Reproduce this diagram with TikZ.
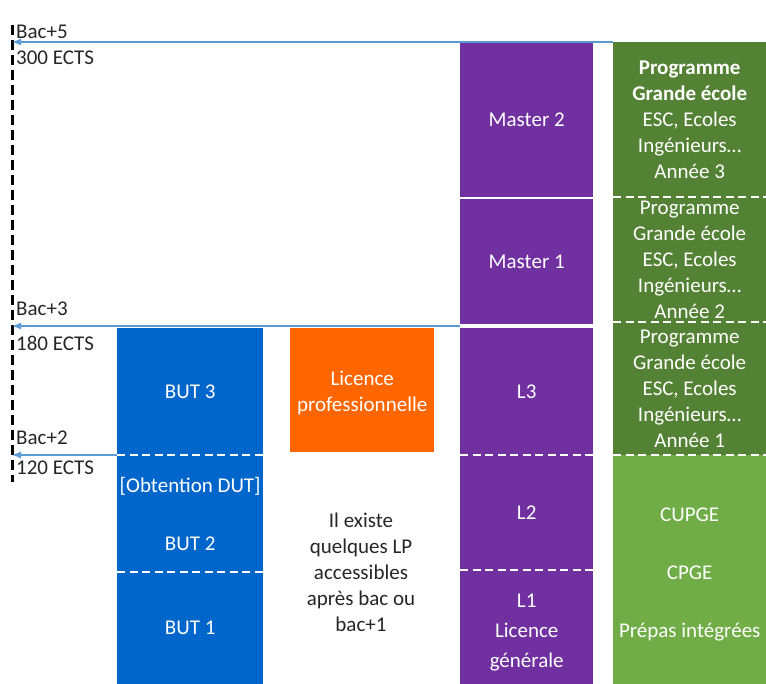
\documentclass[tikz,border=0pt]{standalone}
\usepackage{fontspec}
\setmainfont{Carlito}
\usetikzlibrary{arrows.meta}

\definecolor{butblue}{HTML}{0066CC}
\definecolor{lporange}{HTML}{FF6600}
\definecolor{licpurple}{HTML}{7030A0}
\definecolor{pgegreen}{HTML}{548235}
\definecolor{prepagreen}{HTML}{70AD47}
\definecolor{bacarrow}{HTML}{5B9BD5}

\tikzset{
	box/.style={anchor=north west, inner sep=0pt, text=white, align=center, font=\fontsize{21}{26}\selectfont},
	boxtext/.style={inner sep=0pt, text=white, align=center, font=\fontsize{21}{26}\selectfont},
	sep/.style={white, line width=2.5pt, dash pattern=on 8pt off 4.5pt},
	bac/.style={bacarrow, line width=1.2pt, -{Latex[length=9pt,width=7pt]}},
	lvl/.style={anchor=west, inner sep=0pt, text=black!85, font=\fontsize{21}{24}\selectfont},
}

\begin{document}
\begin{tikzpicture}[x=1pt, y=-1pt]
	\useasboundingbox (0,0) rectangle (766,684);
	% Levels axis
	\begin{scope}
		\coordinate (axtop) at (12,25);
		\coordinate (axbottom) at (12,482);
		\coordinate (ax5) at (12,42);
		\coordinate (ax3) at (12,326);
		\coordinate (ax2) at (12,455);
		\draw[line width=3pt, dash pattern=on 10pt off 5pt] (axtop) -- (axbottom);

		\node[lvl] (bac5) at (16,32) {Bac+5};
		\node[lvl] (ects300) at (16,58) {300 ECTS};
		\node[lvl] (bac3) at (16,309) {Bac+3};
		\node[lvl] (ects180) at (16,343) {180 ECTS};
		\node[lvl] (bac2) at (16,438) {Bac+2};
		\node[lvl] (ects120) at (16,468) {120 ECTS};
	\end{scope}

	% BUT
	\begin{scope}
		\node[box, fill=butblue, minimum width=146pt, minimum height=127pt] (but3) at (117,328) {BUT 3};
		\node[box, fill=butblue, minimum width=146pt, minimum height=117pt] (but2) at (117,455) {[Obtention DUT]\\[32pt]BUT 2};
		\node[box, fill=butblue, minimum width=146pt, minimum height=112pt] (but1) at (117,572) {BUT 1};
		\draw[sep] (but2.north west) -- (but2.north east);
		\draw[sep] (but1.north west) -- (but1.north east);
	\end{scope}

	% Licence pro
	\begin{scope}
		\node[box, fill=lporange, minimum width=144pt, minimum height=124pt] (lp) at (290,328) {};
		\node[boxtext] (lptext) at ([yshift=-3pt]lp.center) {Licence\\professionnelle};
		\node[align=center, text=black!85, font=\fontsize{21}{26}\selectfont] (lpnote) at (361,572) {Il existe\\quelques LP\\accessibles\\après bac ou\\bac+1};
	\end{scope}

	% Licence / Master
	\begin{scope}
		\node[box, fill=licpurple, minimum width=133pt, minimum height=155pt] (m2) at (460,42) {Master 2};
		\node[box, fill=licpurple, minimum width=133pt, minimum height=125pt] (m1) at (460,199) {Master 1};
		\node[box, fill=licpurple, minimum width=133pt, minimum height=127pt] (l3) at (460,328) {L3};
		\node[box, fill=licpurple, minimum width=133pt, minimum height=115pt] (l2) at (460,455) {L2};
		\node[box, fill=licpurple, minimum width=133pt, minimum height=114pt] (l1) at (460,570) {};
		\node[boxtext] (l1text) at ([yshift=-5pt]l1.center) {L1\\[4pt]Licence\\[4pt]générale};
		\draw[sep] (l2.north west) -- (l2.north east);
		\draw[sep] (l1.north west) -- (l1.north east);
	\end{scope}

	% Grandes ecoles
	\begin{scope}
		\node[box, fill=pgegreen, minimum width=153pt, minimum height=155pt] (pge3) at (613,42) {\textbf{Programme}\\\textbf{Grande école}\\ESC, Ecoles\\Ingénieurs…\\Année 3};
		\node[box, fill=pgegreen, minimum width=153pt, minimum height=125pt] (pge2) at (613,197) {Programme\\Grande école\\ESC, Ecoles\\Ingénieurs…\\Année 2};
		\node[box, fill=pgegreen, minimum width=153pt, minimum height=133pt] (pge1) at (613,322) {Programme\\Grande école\\ESC, Ecoles\\Ingénieurs…\\Année 1};
		\node[box, fill=prepagreen, minimum width=153pt, minimum height=229pt] (prepa) at (613,455) {};
		\node[boxtext] (prepatext) at ([yshift=-5pt]prepa.center) {CUPGE\\[32pt]CPGE\\[32pt]Prépas intégrées};
		\draw[sep] (pge2.north west) -- (pge2.north east);
		\draw[sep] (pge1.north west) -- (pge1.north east);
		\draw[sep] (prepa.north west) -- (prepa.north east);
	\end{scope}

	% Bac arrows
	\draw[bac] (pge3.north west) -- (ax5);
	\draw[bac] ([yshift=2pt]l3.north west) -- (ax3);
	\draw[bac] (but2.north west) -- (ax2);
\end{tikzpicture}
\end{document}
